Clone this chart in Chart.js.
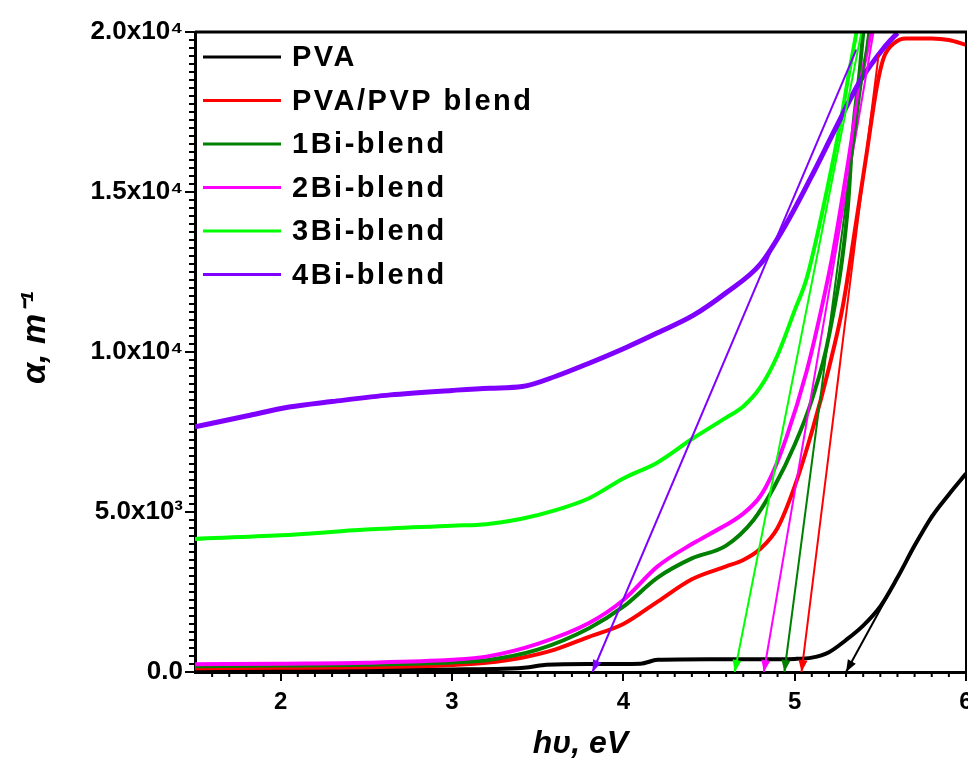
<!DOCTYPE html>
<html>
<head>
<meta charset="utf-8">
<title>Absorption coefficient vs photon energy</title>
<script src="https://cdn.jsdelivr.net/npm/chart.js@4.4.1/dist/chart.umd.min.js"></script>
<style>
html,body{margin:0;padding:0;background:#fff;overflow:hidden;}
#wrap{width:1000px;height:760px;}
</style>
</head>
<body>
<div id="wrap"><canvas id="chart" width="1000" height="760"></canvas></div>
<script>
const FONT = '"Liberation Sans", Arial, sans-serif';

/* absorption coefficient (m^-1) against photon energy (eV) */
const pvaE = [1.5, 2.0, 2.5, 3.0, 3.3, 3.45, 3.55, 3.8, 4.1, 4.2, 4.5, 4.8, 5.0, 5.1, 5.2, 5.3, 5.4, 5.5, 5.6, 5.7, 5.8, 5.9, 6.0];
const pvaA = [40, 50, 60, 80, 100, 150, 230, 250, 260, 380, 400, 400, 410, 450, 620, 1000, 1450, 2050, 2950, 3950, 4850, 5550, 6200];

const blendE = [1.5, 2.0, 2.5, 2.8, 3.0, 3.2, 3.4, 3.6, 3.8, 4.0, 4.2, 4.4, 4.6, 4.7, 4.8, 4.9, 5.0, 5.1, 5.2, 5.28, 5.36, 5.42, 5.48, 5.52, 5.58, 5.65, 5.8, 5.9, 6.0];
const blendA = [120, 130, 150, 180, 220, 290, 440, 700, 1100, 1500, 2200, 2900, 3300, 3500, 3850, 4500, 5800, 7500, 9500, 11400, 14100, 16200, 18300, 19200, 19650, 19800, 19800, 19750, 19600];

const bi1E = [1.5, 2.0, 2.5, 3.0, 3.2, 3.5, 3.8, 4.0, 4.2, 4.4, 4.6, 4.76, 4.88, 5.0, 5.1, 5.2, 5.31, 5.34, 5.38, 5.4, 5.42];
const bi1A = [180, 200, 230, 300, 370, 700, 1370, 2040, 2950, 3550, 3950, 4750, 5780, 7100, 8500, 10500, 14500, 16900, 18800, 19950, 20600];

const bi2E = [1.5, 2.0, 2.5, 3.0, 3.2, 3.5, 3.8, 4.0, 4.2, 4.4, 4.5, 4.7, 4.8, 4.87, 4.95, 5.07, 5.15, 5.22, 5.32, 5.38, 5.44, 5.46];
const bi2A = [240, 260, 290, 380, 480, 880, 1530, 2250, 3300, 4000, 4300, 4950, 5500, 6200, 7300, 9400, 11200, 13000, 16200, 18300, 19900, 20600];

const bi3E = [1.5, 2.0, 2.5, 3.0, 3.2, 3.4, 3.6, 3.8, 4.0, 4.2, 4.4, 4.6, 4.7, 4.8, 4.9, 5.0, 5.07, 5.19, 5.27, 5.32, 5.36, 5.38];
const bi3A = [4160, 4270, 4450, 4570, 4620, 4780, 5050, 5430, 6050, 6550, 7280, 7950, 8300, 8900, 9900, 11300, 12300, 15100, 17250, 18800, 19970, 20600];

const bi4E = [1.5, 1.8, 2.05, 2.3, 2.64, 3.0, 3.22, 3.41, 3.61, 3.8, 4.02, 4.2, 4.41, 4.6, 4.8, 4.95, 5.09, 5.24, 5.38, 5.52, 5.6];
const bi4A = [7660, 8000, 8280, 8450, 8660, 8800, 8870, 8920, 9250, 9650, 10150, 10600, 11150, 11850, 12750, 14000, 15400, 17000, 18450, 19500, 19970];

const names = ['PVA', 'PVA/PVP blend', '1Bi-blend', '2Bi-blend', '3Bi-blend', '4Bi-blend'];
const colors = ['#000000', '#ff0000', '#008000', '#ff00ff', '#00ff00', '#8000ff'];
const energies = [pvaE, blendE, bi1E, bi2E, bi3E, bi4E];
const alphas = [pvaA, blendA, bi1A, bi2A, bi3A, bi4A];

/* linear fits of the absorption edge: x-intercept (gap) and upper end */
const fitE0 = [5.30, 5.04, 4.94, 4.82, 4.65, 3.82];
const fitE1 = [5.80, 5.49, 5.43, 5.46, 5.39, 5.36];
const fitA1 = [4900, 19300, 20000, 20000, 20000, 19450];

/* axis ticks */
const xTickValues = [2, 3, 4, 5, 6];
const yTickValues = [0, 5000, 10000, 15000, 20000];
const yTickText = ['0.0', '5.0x10\u00b3', '1.0x10\u2074', '1.5x10\u2074', '2.0x10\u2074'];

const datasets = [];
names.forEach((n, i) => {
  datasets.push({
    label: n,
    data: energies[i].map((e, k) => ({x: e, y: alphas[i][k]})),
    borderColor: colors[i],
    backgroundColor: colors[i],
    borderWidth: i === 5 ? 5 : 4,
    pointRadius: 0,
    cubicInterpolationMode: 'monotone',
    order: 10 - i
  });
});
names.forEach((n, i) => {
  datasets.push({
    label: n + ' fit',
    fit: true,
    data: [{x: fitE0[i], y: 0}, {x: fitE1[i], y: fitA1[i]}],
    borderColor: colors[i],
    backgroundColor: colors[i],
    borderWidth: 2,
    pointRadius: 0,
    order: 1
  });
});

/* plot box, minor ticks */
const frame = {
  id: 'frame',
  afterDraw(chart) {
    const {ctx, chartArea: a, scales: {x, y}} = chart;
    ctx.save();
    ctx.strokeStyle = '#000';
    ctx.lineWidth = 3;
    ctx.beginPath();
    ctx.moveTo(a.left, a.top); ctx.lineTo(a.right + 1, a.top);
    ctx.stroke();
    ctx.lineWidth = 2;
    ctx.beginPath();
    ctx.moveTo(a.right, a.top); ctx.lineTo(a.right, a.bottom);
    ctx.stroke();
    ctx.beginPath();
    for (let i = 16; i < 60; i++) {
      if (i % 10 === 0) continue;
      const px = x.getPixelForValue(i / 10);
      ctx.moveTo(px, a.bottom); ctx.lineTo(px, a.bottom + 5);
    }
    for (let v = 250; v < 20000; v += 250) {
      if (v % 5000 === 0) continue;
      const py = y.getPixelForValue(v);
      ctx.moveTo(a.left, py); ctx.lineTo(a.left - 6, py);
    }
    ctx.stroke();
    ctx.restore();
  }
};

/* arrow heads at the x-intercept of each fit line */
const arrows = {
  id: 'arrows',
  afterDatasetsDraw(chart) {
    const ctx = chart.ctx;
    chart.data.datasets.forEach((ds, i) => {
      if (!ds.fit) return;
      const pts = chart.getDatasetMeta(i).data;
      const tip = pts[0], tail = pts[1];
      const ang = Math.atan2(tip.y - tail.y, tip.x - tail.x);
      const len = 12, half = 4.5;
      const bx = tip.x - len * Math.cos(ang), by = tip.y - len * Math.sin(ang);
      ctx.save();
      ctx.fillStyle = ds.borderColor;
      ctx.beginPath();
      ctx.moveTo(tip.x, tip.y);
      ctx.lineTo(bx + half * Math.sin(ang), by - half * Math.cos(ang));
      ctx.lineTo(bx - half * Math.sin(ang), by + half * Math.cos(ang));
      ctx.closePath();
      ctx.fill();
      ctx.restore();
    });
  }
};

/* legend inside the plot, top left */
const legendBox = {
  id: 'legendBox',
  afterDraw(chart) {
    const {ctx, chartArea: a} = chart;
    ctx.save();
    ctx.font = 'bold 29px ' + FONT;
    ctx.letterSpacing = '2.5px';
    ctx.textBaseline = 'middle';
    ctx.fillStyle = '#000';
    names.forEach((n, i) => {
      const yy = a.top + 25 + i * 43.5;
      ctx.strokeStyle = colors[i];
      ctx.lineWidth = 3;
      ctx.beginPath();
      ctx.moveTo(a.left + 8, yy); ctx.lineTo(a.left + 86, yy);
      ctx.stroke();
      ctx.fillText(n, a.left + 97, yy + 1);
    });
    ctx.restore();
  }
};

new Chart(document.getElementById('chart'), {
  type: 'line',
  data: {datasets},
  options: {
    responsive: false,
    animation: false,
    devicePixelRatio: 1,
    layout: {padding: {left: 0, right: 34, top: 32, bottom: 0}},
    plugins: {legend: {display: false}, tooltip: {enabled: false}},
    scales: {
      x: {
        type: 'linear',
        min: 1.5, max: 6,
        afterFit: s => { s.height = 88; },
        afterBuildTicks: s => { s.ticks = xTickValues.map(v => ({value: v})); },
        ticks: {color: '#000', font: {family: FONT, size: 24, weight: 'bold'}, padding: 7, maxRotation: 0},
        grid: {drawOnChartArea: false, drawTicks: true, tickLength: 9, color: '#000', lineWidth: 2},
        border: {display: true, color: '#000', width: 3},
        title: {display: true, text: 'h\u03c5, eV', color: '#000',
          font: {family: FONT, size: 32, weight: 'bold', style: 'italic', lineHeight: 1},
          padding: {top: 0, bottom: 0}}
      },
      y: {
        min: 0, max: 20000,
        afterFit: s => { s.width = 195; },
        afterBuildTicks: s => { s.ticks = yTickValues.map(v => ({value: v})); },
        ticks: {color: '#000', font: {family: FONT, size: 26, weight: 'bold'}, padding: 2,
          callback: v => yTickText[yTickValues.indexOf(v)]},
        grid: {drawOnChartArea: false, drawTicks: true, tickLength: 10, color: '#000', lineWidth: 2},
        border: {display: true, color: '#000', width: 3},
        title: {display: true, text: '   \u03b1, m\u207b\u00b9', color: '#000',
          font: {family: FONT, size: 34, weight: 'bold', style: 'italic', lineHeight: 1},
          padding: {top: 19, bottom: 0}}
      }
    }
  },
  plugins: [frame, arrows, legendBox]
});
</script>
</body>
</html>
